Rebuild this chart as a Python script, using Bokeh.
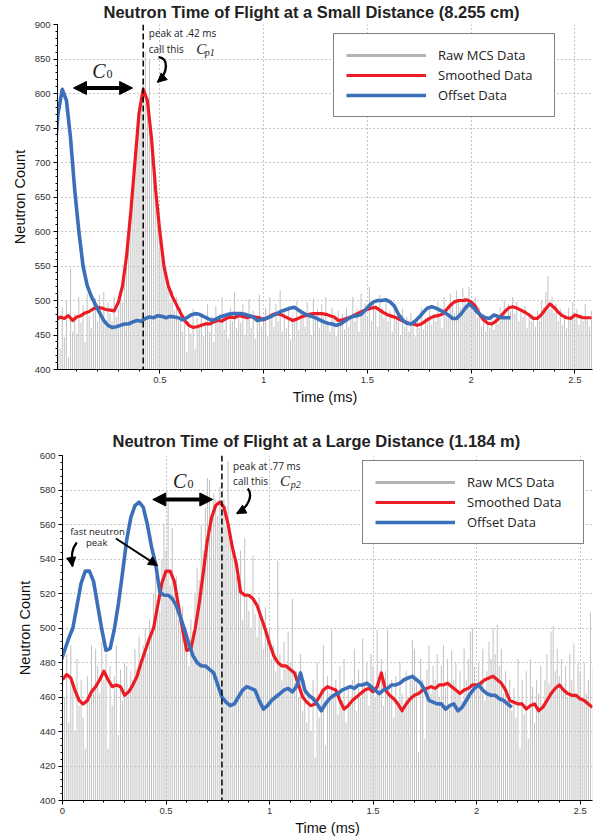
from bokeh.plotting import figure
from bokeh.models import (Range1d, Label, Arrow, NormalHead, Legend, LegendItem, Span,
                          SingleIntervalTicker, NumeralTickFormatter)
from bokeh.embed import file_html
from bokeh.resources import INLINE

# ---------------- data ----------------
C0_MS = 0.39            # offset between smoothed and offset data (ms)
RAW_BIN_MS = 0.01       # MCS bin width (ms)
SMOOTH_STEP_MS = 0.02   # sampling of the smoothed curve (ms)

small_title = "Neutron Time of Flight at a Small Distance (8.255 cm)"
large_title = "Neutron Time of Flight at a Large Distance (1.184 m)"
series_names = ["Raw MCS Data", "Smoothed Data", "Offset Data"]
x_label = "Time (ms)"
y_label = "Neutron Count"

small_peak_ms = 0.42
large_peak_ms = 0.77

# small distance: raw counts per 0.01 ms bin (0.00 .. 2.58 ms)
small_raw = [
    458, 515, 430, 490, 447, 500, 418, 546, 455, 480,
    452, 505, 468, 493, 440, 510, 478, 460, 495, 503,
    470, 508, 478, 512, 462, 498, 481, 470, 505, 476,
    488, 510, 498, 535, 548, 590, 620, 655, 700, 735,
    760, 795, 820, 860, 780, 848, 745, 700, 655, 610,
    590, 560, 548, 520, 530, 498, 515, 485, 505, 478,
    490, 455, 478, 425, 470, 452, 488, 430, 475, 460,
    482, 448, 470, 495, 455, 478, 440, 492, 468, 480,
    505, 458, 475, 445, 490, 470, 512, 460, 482, 468,
    495, 450, 478, 502, 460, 485, 445, 470, 508, 462,
    470, 490, 448, 505, 478, 462, 495, 470, 515, 455,
    485, 460, 492, 444, 478, 470, 500, 458, 486, 475,
    462, 498, 480, 450, 503, 472, 488, 460, 495, 476,
    505, 468, 455, 490, 472, 448, 485, 465, 480, 458,
    490, 462, 475, 505, 470, 488, 455, 510, 482, 496,
    478, 520, 470, 500, 485, 462, 508, 490, 475, 498,
    470, 485, 455, 495, 472, 480, 450, 488, 462, 476,
    455, 482, 470, 448, 476, 460, 490, 458, 475, 468,
    492, 465, 480, 470, 498, 475, 460, 505, 488, 478,
    510, 495, 482, 515, 500, 490, 518, 505, 492, 520,
    498, 485, 505, 475, 490, 462, 478, 455, 470, 460,
    472, 458, 480, 466, 490, 475, 500, 478, 495, 485,
    505, 482, 498, 470, 488, 476, 492, 460, 482, 470,
    478, 462, 485, 470, 500, 490, 512, 535, 488, 505,
    482, 495, 470, 488, 465, 478, 460, 490, 472, 498,
    476, 488, 465, 480, 470, 495, 478, 462, 485,
]

# small distance: smoothed counts every 0.02 ms (0.00 .. 2.58 ms)
small_smooth = [
    472, 476, 474, 478, 471, 476, 478, 482, 484, 488,
    490, 489, 487, 486, 485, 497, 521, 565, 628, 700,
    772, 806, 790, 735, 660, 600, 550, 522, 506, 494,
    482, 471, 464, 461, 462, 464, 466, 466, 469, 471,
    470, 474, 476, 475, 478, 477, 475, 477, 476, 475,
    472, 475, 479, 481, 480, 477, 474, 471, 473, 476,
    478, 480, 481, 481, 481, 480, 478, 476, 471, 472,
    474, 476, 479, 482, 485, 487, 489, 490, 486, 482,
    479, 477, 475, 472, 469, 467, 466, 464, 466, 470,
    474, 477, 478, 480, 486, 493, 498, 500, 500, 501,
    498, 492, 480, 472, 467, 466, 470, 476, 483, 489,
    491, 489, 486, 483, 479, 474, 474, 480, 488, 495,
    490, 483, 478, 475, 474, 479, 477, 475, 475, 475,
]

# large distance: raw counts per 0.01 ms bin (0.00 .. 2.56 ms)
large_raw = [
    495, 460, 485, 445, 490, 468, 440, 482, 455, 470,
    448, 430, 472, 458, 490, 465, 488, 478, 462, 492,
    470, 485, 430, 478, 455, 472, 490, 438, 476, 458,
    480, 478, 462, 475, 470, 488, 476, 495, 482, 490,
    500, 485, 505, 495, 520, 530, 515, 510, 540, 560,
    545, 575, 525, 558, 520, 530, 505, 498, 512, 490,
    492, 478, 505, 498, 520, 535, 528, 560, 545, 570,
    587, 586, 560, 578, 575, 565, 582, 570, 575, 560,
    597, 555, 550, 540, 530, 525, 545, 505, 552, 520,
    510, 500, 542, 508, 495, 518, 502, 488, 512, 495,
    500, 482, 490, 475, 539, 485, 470, 492, 478, 498,
    480, 517, 468, 475, 460, 485, 452, 470, 445, 462,
    440, 470, 425, 480, 448, 465, 490, 432, 472, 462,
    499, 460, 470, 450, 478, 458, 482, 445, 465, 455,
    470, 488, 452, 476, 460, 494, 468, 480, 455, 485,
    478, 460, 499, 470, 482, 455, 475, 499, 462, 470,
    448, 472, 458, 480, 462, 452, 475, 460, 470, 493,
    488, 468, 428, 482, 470, 436, 476, 490, 462, 478,
    470, 485, 460, 478, 490, 465, 482, 455, 487, 470,
    480, 462, 475, 458, 488, 470, 482, 498, 500, 478,
    465, 480, 470, 488, 458, 475, 492, 482, 500, 485,
    502, 478, 488, 462, 475, 458, 470, 452, 465, 448,
    482, 430, 470, 450, 475, 436, 482, 466, 445, 470,
    462, 478, 455, 470, 485, 468, 498, 501, 475, 488,
    472, 482, 465, 478, 460, 485, 470, 491, 462, 480,
    475, 458, 480, 462, 470, 509, 478,
]

# large distance: smoothed counts every 0.02 ms (0.00 .. 2.56 ms)
large_smooth = [
    470, 473, 471, 464, 458, 456, 458, 463, 466, 470,
    475, 470, 466, 467, 466, 461, 463, 467, 472, 480,
    487, 494, 500, 513, 526, 533, 533, 527, 513, 499,
    487, 488, 499, 514, 532, 551, 564, 571, 573, 570,
    560, 547, 537, 521, 519, 519, 517, 513, 506, 499,
    491, 484, 480, 478, 478, 476, 474, 467, 460, 457,
    455, 456, 460, 464, 466, 465, 464, 458, 453, 455,
    458, 460, 462, 464, 465, 463, 466, 474, 464, 461,
    459, 456, 452, 456, 459, 461, 462, 464, 465, 466,
    465, 467, 467, 468, 466, 464, 462, 464, 465, 467,
    467, 468, 470, 471, 472, 470, 468, 464, 458, 457,
    456, 456, 453, 455, 456, 452, 454, 458, 462, 465,
    467, 464, 462, 461, 461, 459, 458, 456, 454,
]

RED = "#ec1c24"
BLUE = "#3b6fba"
RAW_GRAY = "#c3c3c3"
LEGEND_GRAY = "#b3b3b3"
NAN = float("nan")


def make_panel(title, raw, smooth, x_range, y_range, y_step, height, border_left,
               border_top, border_bottom, title_offset, title_standoff, legend_loc):
    raw_t = [round(i * RAW_BIN_MS, 3) for i in range(len(raw))]
    sm_t = [round(i * SMOOTH_STEP_MS, 3) for i in range(len(smooth))]
    off_t = [round(t - C0_MS, 3) for t in sm_t]

    p = figure(width=594, height=height, x_range=Range1d(*x_range), y_range=Range1d(*y_range),
               output_backend="svg", toolbar_location=None, title=title,
               min_border_left=border_left, min_border_right=2,
               min_border_top=border_top, min_border_bottom=border_bottom,
               x_axis_label=x_label, y_axis_label=y_label)
    p.outline_line_color = None
    p.background_fill_color = "white"
    p.border_fill_color = "white"

    p.title.text_font = "Liberation Sans"
    p.title.text_font_style = "bold"
    p.title.text_font_size = "16.5px"
    p.title.text_color = "#222222"
    p.title.align = "left"
    p.title.offset = title_offset
    p.title.vertical_align = "top"
    p.title.standoff = title_standoff

    xt = SingleIntervalTicker(interval=0.5, num_minor_ticks=5)
    yt = SingleIntervalTicker(interval=y_step, num_minor_ticks=5)
    p.xaxis.ticker = xt
    p.yaxis.ticker = yt
    p.xgrid.ticker = xt
    p.ygrid.ticker = yt
    p.xaxis.formatter = NumeralTickFormatter(format="0.[0]")
    for ax in (p.xaxis[0], p.yaxis[0]):
        ax.major_label_text_font = "Liberation Sans"
        ax.major_label_text_font_size = "9.5px"
        ax.major_label_text_color = "#333333"
        ax.axis_label_text_font = "Liberation Sans"
        ax.axis_label_text_font_size = "14.5px"
        ax.axis_label_text_font_style = "normal"
        ax.axis_label_text_color = "#111111"
        ax.major_tick_out = 4
        ax.major_tick_in = 0
        ax.minor_tick_out = 2
        ax.minor_tick_in = 0
        ax.axis_line_color = "black"
        ax.major_tick_line_color = "black"
        ax.minor_tick_line_color = "black"
        ax.major_label_standoff = 3
    p.xaxis.axis_label_standoff = 3
    p.yaxis.axis_label_standoff = 4
    p.grid.grid_line_color = "#8a8a8a"
    p.grid.grid_line_dash = "1 3"
    p.grid.grid_line_width = 1

    p.vbar(x=raw_t, top=raw, bottom=y_range[0], width=RAW_BIN_MS * 0.5,
           fill_color=RAW_GRAY, line_color=None)
    red = p.line(sm_t, smooth, line_color=RED, line_width=3.2, line_join="round")
    blue = p.line(off_t, smooth, line_color=BLUE, line_width=3.6, line_join="round")
    raw_key = p.line([NAN], [NAN], line_color=LEGEND_GRAY, line_width=3)

    legend = Legend(items=[LegendItem(label=series_names[0], renderers=[raw_key]),
                           LegendItem(label=series_names[1], renderers=[red]),
                           LegendItem(label=series_names[2], renderers=[blue])],
                    location=legend_loc)
    legend.border_line_color = "black"
    legend.border_line_width = 1.5
    legend.background_fill_color = "white"
    legend.background_fill_alpha = 1
    legend.padding = 12
    legend.spacing = 2
    legend.margin = 0
    legend.label_height = 18
    legend.glyph_height = 18
    legend.glyph_width = 80
    legend.label_standoff = 12
    legend.label_width = 104
    legend.label_text_font = "Open Sans"
    legend.label_text_font_size = "13px"
    legend.label_text_color = "#222222"
    p.add_layout(legend)
    return p


def note(p, x, y, text, size="10px", font="Open Sans", style="normal", align="left"):
    p.add_layout(Label(x=x, y=y, text=text, text_font=font, text_font_size=size,
                       text_font_style=style, text_align=align, text_baseline="middle",
                       text_color="#222222"))


def math_c(p, x, y, sub, xs, ys, big="15px", small="10px", sub_style="italic"):
    note(p, x, y, "C", size=big, font="Liberation Serif", style="italic")
    note(p, xs, ys, sub, size=small, font="Liberation Serif", style=sub_style)


def double_arrow(p, x0, x1, y):
    p.add_layout(Arrow(start=NormalHead(size=13, fill_color="black", line_color="black"),
                       end=NormalHead(size=13, fill_color="black", line_color="black"),
                       x_start=x0, y_start=y, x_end=x1, y_end=y,
                       line_width=4, line_color="black"))


def curved_arrow(p, pts, head_from):
    (xa, ya), (xb, yb), (xc, yc), (xd, yd) = pts
    p.bezier(x0=[xa], y0=[ya], x1=[xd], y1=[yd], cx0=[xb], cy0=[yb], cx1=[xc], cy1=[yc],
             line_color="black", line_width=2.3)
    p.add_layout(Arrow(end=NormalHead(size=9, fill_color="black", line_color="black"),
                       x_start=head_from[0], y_start=head_from[1], x_end=xd, y_end=yd,
                       line_width=2.3, line_color="black"))


# ---------------- top panel ----------------
p1 = make_panel(small_title, small_raw, small_smooth, (0.007, 2.585), (400, 900), 50,
                418, 57, 24, 49, 46, 3, (276, 252))
p1.add_layout(Span(location=small_peak_ms, dimension="height", line_color="black",
                   line_width=1.5, line_dash="6 3"))
note(p1, 0.447, 887, "peak at .42 ms")
note(p1, 0.447, 865, "call this")
math_c(p1, 0.676, 865, "p1", 0.716, 859)
math_c(p1, 0.174, 833, "0", 0.243, 828, big="20px", small="12px", sub_style="normal")
double_arrow(p1, 0.084, 0.369, 808)
curved_arrow(p1, [(0.494, 852.6), (0.542, 851.1), (0.542, 830.8), (0.489, 816.3)],
             (0.505, 820.6))

# ---------------- bottom panel ----------------
p2 = make_panel(large_title, large_raw, large_smooth, (0.0, 2.56), (400, 600), 20,
                420, 62, 37, 38, 50, 7, (300, 256))
p2.add_layout(Span(location=large_peak_ms, dimension="height", line_color="black",
                   line_width=1.5, line_dash="6 3"))
note(p2, 0.824, 594.2, "peak at .77 ms")
note(p2, 0.824, 585.5, "call this")
math_c(p2, 1.051, 585.5, "p2", 1.102, 583)
math_c(p2, 0.534, 585.5, "0", 0.604, 583.2, big="20px", small="12px", sub_style="normal")
double_arrow(p2, 0.436, 0.726, 574.5)
curved_arrow(p2, [(0.895, 580.9), (0.919, 577.4), (0.904, 570.5), (0.842, 566.4)],
             (0.860, 567.6))
note(p2, 0.169, 556.2, "fast neutron", size="9.5px", align="center")
note(p2, 0.165, 549.3, "peak", size="9.5px", align="center")
curved_arrow(p2, [(0.069, 549.6), (0.045, 546.1), (0.040, 541.5), (0.048, 535.7)],
             (0.046, 537.4))
p2.add_layout(Arrow(end=NormalHead(size=9, fill_color="black", line_color="black"),
                    x_start=0.258, y_start=551.9, x_end=0.459, y_end=536.2,
                    line_width=2, line_color="black"))

# two independent roots, stacked by the page flow (keeps each panel's own frame position)
open("out.html", "w").write(file_html([p1, p2], INLINE))
